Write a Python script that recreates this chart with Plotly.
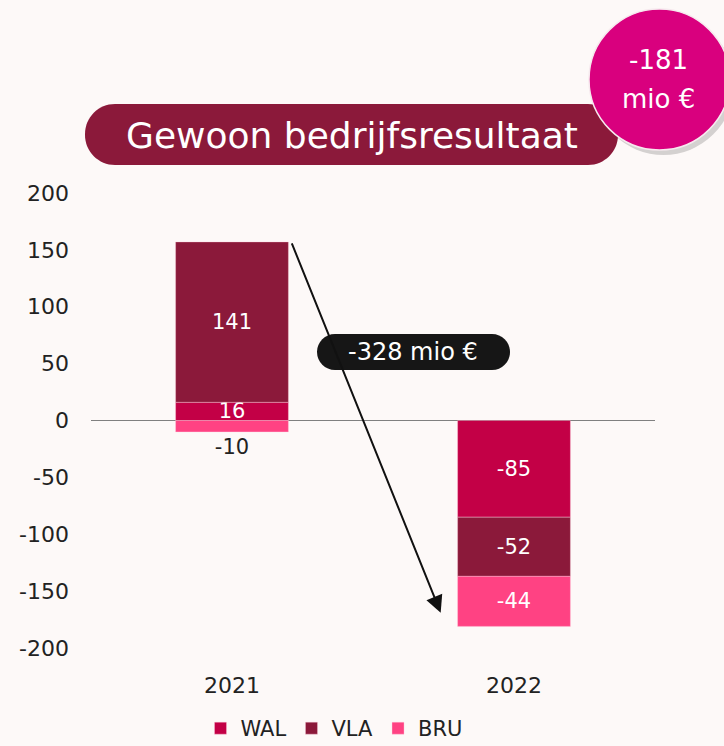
import plotly.graph_objects as go

# ---------------- data ----------------
years = ["2021", "2022"]
wal = [16, -85]
vla = [141, -52]
bru = [-10, -44]
series_names = ["WAL", "VLA", "BRU"]
y_ticks = [-200, -150, -100, -50, 0, 50, 100, 150, 200]
y_ticktext = [str(v) for v in y_ticks]
title_text = "Gewoon bedrijfsresultaat"
total_value = "-181"
total_unit = "mio €"
delta_text = "-328 mio €"

# ---------------- styling ----------------
colors = {"WAL": "#C30046", "VLA": "#8B193A", "BRU": "#FF4283"}
FONT = "DejaVu Sans"
W, H = 724, 746
L, R, T, B = 91, 69, 193, 98
PW, PH = W - L - R, H - T - B
BAR_W = 0.4


def px(x):
    return (x - L) / PW


def py(y):
    return (H - B - y) / PH


def rrect(x0, y0, x1, y1, r):
    k = 0.5523 * r
    pts = [
        ("M", (x0 + r, y0)),
        ("L", (x1 - r, y0)),
        ("C", (x1 - r + k, y0), (x1, y0 + r - k), (x1, y0 + r)),
        ("L", (x1, y1 - r)),
        ("C", (x1, y1 - r + k), (x1 - r + k, y1), (x1 - r, y1)),
        ("L", (x0 + r, y1)),
        ("C", (x0 + r - k, y1), (x0, y1 - r + k), (x0, y1 - r)),
        ("L", (x0, y0 + r)),
        ("C", (x0, y0 + r - k), (x0 + r - k, y0), (x0 + r, y0)),
    ]
    s = ""
    for cmd, *ps in pts:
        s += cmd + " " + " ".join(f"{px(a):.5f},{py(b):.5f}" for a, b in ps) + " "
    return s + "Z"


xpos = list(range(len(years)))
series = {"WAL": wal, "VLA": vla, "BRU": bru}

fig = go.Figure()
for name in series_names:
    vals = series[name]
    if name == "BRU":
        tpos = ["outside" if (v < 0 and abs(v) < 20) else "inside" for v in vals]
    else:
        tpos = "inside"
    fig.add_trace(go.Bar(
        x=xpos, y=vals, name=name, width=BAR_W,
        marker=dict(color=colors[name], line=dict(color="rgba(255,210,225,0.6)", width=0.6)),
        text=[str(v) for v in vals], textposition=tpos,
        insidetextanchor="middle",
        insidetextfont=dict(color="white", size=21, family=FONT),
        outsidetextfont=dict(color="#222222", size=21, family=FONT),
        constraintext="none", cliponaxis=False,
        hoverinfo="skip",
    ))

shapes = []
# title pill
shapes.append(dict(type="path", xref="paper", yref="paper", path=rrect(85, 104, 618, 165, 30),
                   fillcolor="#8B193A", line=dict(width=0), layer="above"))
# delta pill
shapes.append(dict(type="path", xref="paper", yref="paper", path=rrect(317, 334, 510, 370, 18),
                   fillcolor="#161616", line=dict(width=0), layer="above"))
# circle shadow and circle
shapes.append(dict(type="circle", xref="paper", yref="paper",
                   x0=px(593), x1=px(734), y0=py(155), y1=py(14),
                   fillcolor="rgba(0,0,0,0.16)", line=dict(width=0), layer="above"))
shapes.append(dict(type="circle", xref="paper", yref="paper",
                   x0=px(589), x1=px(730), y0=py(150), y1=py(9),
                   fillcolor="#D9007E", line=dict(color="#F6E9EE", width=1.5), layer="above"))

start_x = xpos[0] + BAR_W / 2 + 0.01
start_y = wal[0] + vla[0]
end_x = xpos[1] - BAR_W / 2 - 0.06
end_y = wal[1] + vla[1] + bru[1] + 12

annotations = [
    dict(x=end_x, y=end_y, xref="x", yref="y", ax=start_x, ay=start_y, axref="x", ayref="y",
         text="", showarrow=True, arrowhead=2, arrowsize=1.7, arrowwidth=2, arrowcolor="#111111"),
    dict(x=px(352), y=py(135), xref="paper", yref="paper", text=title_text, showarrow=False,
         font=dict(color="white", size=36, family=FONT), xanchor="center", yanchor="middle"),
    dict(x=px(413), y=py(352), xref="paper", yref="paper", text=delta_text, showarrow=False,
         font=dict(color="white", size=24, family=FONT), xanchor="center", yanchor="middle"),
    dict(x=px(658), y=py(60), xref="paper", yref="paper", text=total_value, showarrow=False,
         font=dict(color="white", size=26, family=FONT), xanchor="center", yanchor="middle"),
    dict(x=px(658), y=py(99), xref="paper", yref="paper", text=total_unit, showarrow=False,
         font=dict(color="white", size=26, family=FONT), xanchor="center", yanchor="middle"),
]

fig.update_layout(
    width=W, height=H,
    margin=dict(l=L, r=R, t=T, b=B, autoexpand=False),
    barmode="relative",
    paper_bgcolor="#FDF9F8", plot_bgcolor="rgba(0,0,0,0)",
    font=dict(family=FONT, color="#222222", size=21),
    uniformtext=dict(minsize=21, mode="show"),
    showlegend=True,
    legend=dict(orientation="h", x=px(334), xanchor="center", y=py(708), yanchor="top",
                font=dict(size=21, color="#222222", family=FONT), bgcolor="rgba(0,0,0,0)",
                traceorder="normal"),
    xaxis=dict(range=[-0.5, 1.5], tickvals=xpos, ticktext=years, showgrid=False,
               zeroline=False, showline=False, ticks="", ticklabelstandoff=22,
               tickfont=dict(size=22, color="#222222", family=FONT), fixedrange=True),
    yaxis=dict(range=[-200, 200], tickvals=y_ticks, ticktext=y_ticktext, showgrid=False,
               zeroline=True, zerolinecolor="#808080", zerolinewidth=1.2, showline=False,
               ticks="", ticklabelstandoff=21, tickfont=dict(size=22, color="#222222", family=FONT),
               fixedrange=True),
    shapes=shapes,
    annotations=annotations,
)

fig.write_html("out.html", config={"displayModeBar": False},
               post_script="document.body.style.margin='0';document.body.style.background='#FDF9F8';")
